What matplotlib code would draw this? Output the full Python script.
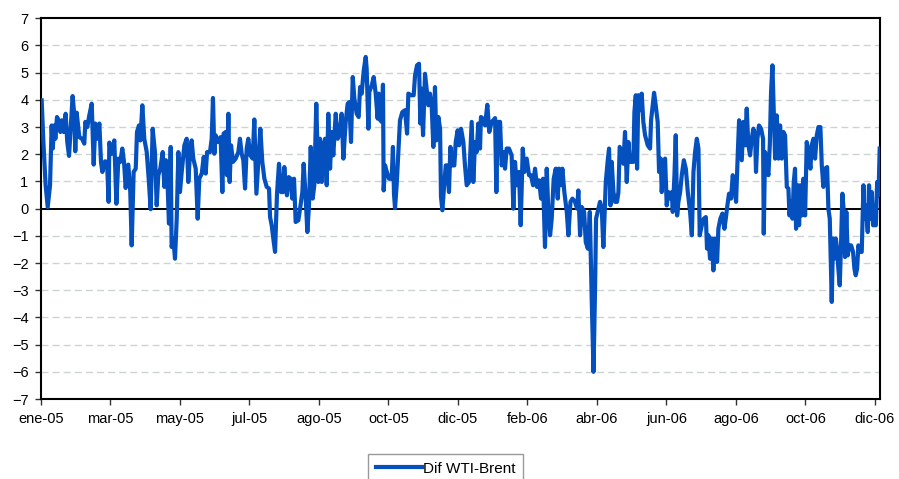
import numpy as np
import matplotlib.pyplot as plt

# days counted from 3-ene-2005, spread WTI - Brent (USD/bbl)
day = [0.6, 2.0, 4.0, 5.8, 7.8, 9.2, 10.1, 11.5, 12.4, 13.8, 15.3, 16.7, 18.1, 19.6, 21.3, 22.7,
       24.2, 25.6, 27.3, 28.8, 29.6, 30.8, 33.1, 35.4, 37.4, 38.3, 40.0, 41.7, 43.8, 45.5, 46.9,
       48.4, 50.4, 51.8, 53.0, 55.3, 57.0, 58.4, 59.0, 61.0, 63.3, 65.1, 66.8, 68.5, 70.2, 71.7,
       73.1, 75.4, 77.1, 78.3, 80.0, 81.8, 82.9, 84.6, 85.8, 87.5, 89.2, 91.3, 93.0, 94.7, 96.4,
       98.4, 99.9, 101.3, 103.0, 105.1, 106.5, 107.9, 109.4, 110.5, 112.0, 112.8, 114.3, 115.7,
       117.2, 118.6, 120.0, 121.5, 123.8, 125.8, 127.2, 128.7, 130.1, 131.5, 133.6, 135.3, 136.7,
       138.8, 140.5, 142.2, 143.4, 145.9, 147.4, 148.5, 149.7, 150.8, 153.1, 155.1, 156.6, 157.7,
       159.5, 160.6, 161.8, 162.9, 164.1, 165.8, 168.1, 170.4, 171.8, 173.3, 174.7, 176.2, 177.6,
       179.0, 180.8, 182.8, 184.2, 186.0, 187.7, 189.4, 191.1, 192.9, 194.9, 196.9, 197.8, 199.2,
       200.6, 202.1, 203.8, 205.5, 207.3, 209.0, 210.1, 211.3, 212.4, 213.9, 215.6, 217.0, 218.5,
       219.9, 222.2, 223.7, 225.7, 226.8, 228.6, 230.0, 231.4, 232.9, 234.6, 236.0, 237.7, 239.5,
       240.9, 242.4, 243.8, 245.3, 246.7, 248.1, 249.6, 251.0, 252.4, 254.5, 256.2, 258.2, 259.6,
       261.1, 263.1, 264.8, 266.2, 267.7, 269.2, 270.6, 272.6, 274.3, 275.5, 276.9, 278.7, 280.4,
       281.2, 282.7, 283.5, 285.6, 287.3, 289.0, 290.7, 291.6, 293.0, 294.2, 295.3, 295.9, 297.1,
       298.2, 300.5, 302.8, 303.9, 304.8, 305.7, 307.1, 308.6, 310.0, 312.0, 314.3, 316.1, 317.2,
       319.5, 321.8, 323.0, 324.7, 326.4, 327.6, 328.7, 329.9, 331.6, 333.3, 334.5, 335.9, 337.4,
       338.8, 340.2, 341.4, 343.1, 344.6, 345.4, 346.6, 347.7, 349.5, 350.6, 352.3, 353.5, 355.2,
       356.9, 358.1, 359.8, 361.0, 362.7, 364.7, 366.1, 367.6, 369.6, 371.9, 373.3, 374.8, 376.2,
       377.6, 379.1, 379.9, 381.6, 383.4, 385.4, 387.1, 389.1, 390.6, 392.1, 393.2, 394.4, 396.4,
       397.8, 399.5, 400.7, 402.1, 404.1, 406.4, 407.9, 409.3, 410.8, 412.8, 414.2, 416.0, 417.4,
       419.4, 421.4, 423.1, 424.9, 426.6, 428.3, 430.1, 431.8, 433.5, 435.2, 436.7, 438.1, 439.6,
       441.0, 442.7, 444.5, 446.2, 447.3, 449.1, 450.2, 451.9, 454.0, 455.4, 457.2, 458.9, 461.1,
       462.9, 464.0, 465.5, 467.0, 469.0, 470.4, 472.2, 473.9, 475.6, 477.1, 478.4, 479.3, 481.3,
       482.7, 484.2, 485.6, 486.5, 487.7, 489.4, 490.5, 491.7, 492.8, 494.3, 495.7, 497.4, 498.6,
       499.7, 501.5, 502.9, 504.3, 505.8, 507.2, 508.6, 510.1, 511.5, 512.4, 513.6, 514.7, 515.8,
       517.3, 518.7, 520.1, 521.6, 523.9, 525.9, 526.8, 527.9, 529.4, 530.8, 532.5, 533.7, 535.1,
       536.0, 537.4, 538.9, 540.3, 541.7, 543.5, 544.7, 545.5, 547.0, 548.1, 549.3, 550.4, 551.9,
       553.3, 555.1, 556.8, 558.5, 560.5, 562.0, 563.4, 564.8, 566.3, 567.7, 568.8, 570.6, 572.3,
       574.1, 575.1, 576.3, 577.7, 579.2, 580.6, 582.0, 583.8, 584.9, 586.6, 588.4, 590.1, 591.3,
       592.7, 594.1, 595.9, 597.3, 598.7, 600.2, 601.6, 602.8, 605.1, 606.5, 607.9, 609.4, 610.8,
       612.3, 613.7, 615.1, 616.6, 617.4, 618.6, 620.0, 621.8, 623.5, 624.1, 625.2, 626.7, 628.1,
       629.3, 630.4, 631.6, 632.7, 633.9, 635.3, 636.8, 638.2, 639.6, 641.1, 642.5, 644.0, 645.4,
       646.3, 647.7, 648.9, 650.0, 651.1, 652.0, 653.5, 654.6, 655.7, 656.9, 658.3, 659.8, 661.2,
       662.7, 664.4, 665.5, 667.0, 668.4, 669.9, 671.3, 673.0, 674.2, 675.6, 677.0, 678.8, 679.9,
       681.1, 682.0, 682.8, 683.9, 685.1, 686.3, 687.4, 688.5, 689.7, 690.8, 692.0, 693.2, 694.3,
       695.4, 696.6, 698.0, 699.5, 701.2, 702.4, 703.5, 704.7, 705.8, 707.3, 708.7, 710.2, 711.0,
       712.2, 713.9, 715.0, 716.2, 717.4, 718.5, 719.7, 720.9, 722.0, 723.2, 724.2]

dif = [3.98, 2.51, 0.86, 0.06, 0.86, 3.06, 2.21, 3.06, 2.57, 3.37, 3.25, 2.82, 3.25, 2.82, 3.49, 2.45,
       1.94, 2.94, 4.14, 3.43, 2.11, 3.53, 2.63, 2.57, 2.39, 3.19, 3.00, 3.43, 3.86, 1.62, 3.13,
       2.57, 3.13, 1.72, 1.35, 1.74, 1.72, 0.25, 2.43, 2.02, 2.51, 0.18, 1.84, 1.72, 2.21, 1.72,
       0.76, 1.62, 0.61, -1.35, 1.35, 1.47, 2.82, 3.06, 2.51, 3.80, 2.57, 2.08, 1.10, -0.02, 2.94,
       2.08, 0.12, 1.23, 1.47, 2.08, 0.80, 1.78, 0.80, -0.55, 2.27, -1.41, -1.10, -1.84,
       -0.37, 2.08, 0.61, 1.35, 2.33, 2.57, 0.98, 2.08, 2.51, 1.84, 1.47, -0.37, 1.10,
       1.29, 1.90, 1.29, 2.08, 2.08, 2.57, 4.07, 2.02, 2.70, 2.45, 2.63, 0.61, 2.76,
       2.82, 1.23, 3.49, 0.98, 2.33, 1.72, 1.84, 2.08, 2.57, 2.02, 1.78, 0.74, 2.21,
       2.57, 1.96, 1.84, 3.28, 0.55, 1.72, 2.94, 1.72, 1.10, 0.80, 0.74, -0.31, -0.61,
       -1.10, -1.59, 0.55, 1.65, 0.61, 0.61, 1.53, 0.86, 0.49, 1.16, 1.10, 0.37, 1.10,
       -0.49, -0.43, 0.00, 0.61, 1.65, 0.37, -0.86, 0.12, 2.27, 0.37, 0.86, 3.86, 0.98,
       2.57, 0.98, 2.33, 2.57, 0.86, 3.49, 1.47, 2.82, 1.96, 3.49, 2.57, 2.82, 3.49,
       1.84, 3.19, 3.86, 3.92, 2.45, 4.84, 4.04, 3.49, 3.37, 4.47, 4.23, 5.09, 5.58,
       5.15, 2.94, 4.29, 4.53, 4.84, 4.23, 3.31, 4.23, 3.25, 3.19, 4.56, 0.67, 1.59,
       1.41, 1.10, 1.10, 2.27, 0.55, 0.02, 0.86, 2.08, 3.25, 3.55, 3.62, 2.76, 4.23,
       4.17, 4.17, 4.90, 5.27, 5.33, 3.13, 4.41, 2.70, 4.96, 4.29, 3.80, 4.23, 3.74,
       2.27, 4.47, 2.51, 3.37, 2.94, 0.43, -0.06, 0.61, 1.59, 1.59, 0.61, 2.27, 1.59,
       1.59, 2.45, 2.88, 2.33, 2.94, 2.45, 1.59, 0.86, 0.98, 3.19, 0.98, 2.45, 2.08,
       3.13, 2.21, 3.37, 3.31, 3.06, 3.82, 2.82, 3.19, 3.25, 3.33, 0.61, 3.19, 3.19,
       1.59, 2.08, 1.47, 2.21, 2.21, 1.96, 0.00, 1.72, 0.86, 1.35, -0.61, 2.21, 1.35,
       1.84, 1.23, 1.23, 0.86, 1.47, 0.80, 1.04, 0.37, 1.10, -1.41, 1.47, -0.12, -0.98,
       -0.37, 1.10, 1.47, 0.37, 1.47, 0.86, 1.47, 0.61, -0.12, -0.98, 0.25, 0.37, 0.25,
       0.00, 0.67, -0.98, 0.06, -0.12, -1.23, -1.47, -0.12, -3.43, -6.00, -3.00, -0.37, 0.00,
       0.25, 0.00, -1.41, -0.37, 0.98, 1.78, 2.21, 0.12, 1.72, 0.61, 0.25, 0.25, 0.61,
       2.27, 2.08, 1.65, 2.82, 0.98, 2.45, 1.72, 1.72, 1.72, 3.55, 4.17, 1.47, 4.17,
       3.62, 4.23, 3.19, 2.70, 2.33, 2.21, 3.25, 3.68, 4.26, 3.80, 3.19, 1.35, 1.84,
       0.61, 1.65, 1.84, 0.12, 0.61, 0.37, 0.61, -0.12, 1.23, 2.70, -0.25, 0.25, 0.61,
       1.23, 1.78, 1.47, 0.61, -0.12, -0.98, 1.35, 2.08, 2.57, 2.21, -0.98, -0.61, -0.37,
       -0.31, -1.47, -0.98, -1.84, -1.10, -2.27, -1.10, -1.96, -0.74, -0.37, -0.18, -0.74, -0.37,
       0.12, 0.55, 0.37, 1.23, 0.86, 0.25, 1.96, 3.25, 1.78, 3.19, 2.33, 3.68, 2.33,
       1.96, 2.57, 2.94, 2.70, 1.35, 2.57, 3.06, 2.94, 2.57, -0.92, 2.08, 1.59, 1.23,
       2.33, 4.29, 5.27, 3.68, 1.84, 3.43, 1.84, 3.06, 1.84, 2.82, 2.70, 0.80, 0.74,
       -0.25, 0.25, -0.37, 0.98, 1.47, -0.74, 0.86, -0.61, 0.86, -0.25, 1.10, -0.25, 2.45,
       2.08, 1.47, 2.33, 2.57, 1.84, 2.70, 3.00, 3.00, 1.59, 0.80, 1.47, 1.53, 0.00,
       -0.37, -2.08, -3.43, -1.10, -1.84, -1.10, -1.47, -2.21, -2.82, -1.35, 0.55, -0.12, -1.78,
       -0.12, -1.72, -1.35, -1.35, -1.59, -2.21, -2.45, -2.21, -1.35, -1.59, -1.59, 0.86, -0.37,
       0.12, -0.86, 0.86, -0.37, 0.61, -0.61, -0.61, -0.61, 0.98, 0.49, 2.21]

tick_days = [0, 60, 120, 180, 240, 300, 360, 420, 480, 540, 600, 660, 720]
tick_labels = ["ene-05", "mar-05", "may-05", "jul-05", "ago-05", "oct-05", "dic-05",
               "feb-06", "abr-06", "jun-06", "ago-06", "oct-06", "dic-06"]
y_ticks = list(range(-7, 8))

plt.rcParams['font.family'] = ['Liberation Sans', 'DejaVu Sans']

fig = plt.figure(figsize=(8.99, 4.79), dpi=100)
ax = fig.add_axes([0.0456, 0.167, 0.9333, 0.7948])

# light dashed gridlines, solid black line at zero
for v in y_ticks:
    if v not in (0, 7, -7):
        ax.axhline(v, color='#CCD3D3', lw=1.0, dashes=(5, 3), zorder=1)
ax.axhline(0, color='black', lw=1.4, zorder=2)

ax.plot(day, dif, color='#0450BE', lw=3.0, solid_joinstyle='round',
        label='Dif WTI-Brent', zorder=3)

ax.set_xlim(0, 724.5)
ax.set_ylim(-7, 7)
ax.set_yticks(y_ticks)
ax.set_xticks(tick_days)
ax.set_xticklabels(tick_labels)
ax.tick_params(axis='both', labelsize=10.5, length=4, width=1, color='#333333', pad=5)
for s in ax.spines.values():
    s.set_linewidth(1.5)

fig.legend(loc='upper center', bbox_to_anchor=(0.4955, 0.052), fontsize=11,
           frameon=True, fancybox=False, edgecolor='#808080', handlelength=3.0,
           borderpad=0.5, handletextpad=0.05, borderaxespad=0)

fig.savefig('out.png', dpi=100)
